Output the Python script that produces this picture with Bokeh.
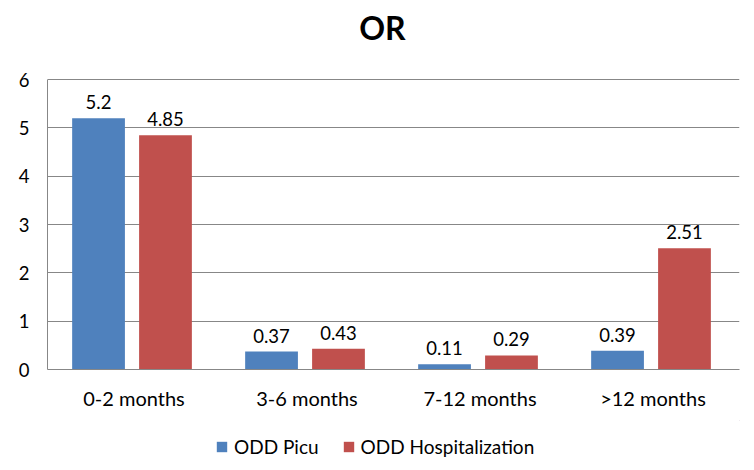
from bokeh.plotting import figure
from bokeh.layouts import column
from bokeh.models import ColumnDataSource, Legend, LegendItem, FixedTicker, Range1d, Label
from bokeh.transform import dodge
from bokeh.core.properties import value
from bokeh.embed import file_html
from bokeh.resources import INLINE

categories = ["0-2 months", "3-6 months", "7-12 months", ">12 months"]
odd_picu = [5.2, 0.37, 0.11, 0.39]
odd_hosp = [4.85, 0.43, 0.29, 2.51]
series_names = ["ODD Picu", "ODD Hospitalization"]
y_ticks = [0, 1, 2, 3, 4, 5, 6]
title_text = "OR"

FONT = "Lato"
BLUE = "#4F81BD"
RED = "#C0504D"
GRID = "#878787"

Y_MAX = 6          # top of the value axis
Y_TOP = 7.43       # extra headroom above the axis holds the title
TITLE_Y = 7.08
TITLE_X = 1.936    # synthetic categorical coordinate

src = ColumnDataSource(dict(
    cat=categories,
    picu=odd_picu,
    hosp=odd_hosp,
    picu_lbl=[f"{v:g}" for v in odd_picu],
    hosp_lbl=[f"{v:g}" for v in odd_hosp],
))

p = figure(x_range=categories, y_range=Range1d(0, Y_TOP), width=746, height=420,
           output_backend="svg", toolbar_location=None,
           min_border_left=47, min_border_right=7, min_border_top=10, min_border_bottom=51)
p.outline_line_color = None
p.background_fill_color = "white"
p.border_fill_color = "white"

r1 = p.vbar(x=dodge("cat", -0.205, range=p.x_range), top="picu", width=0.305,
            source=src, fill_color=BLUE, line_color=None)
r2 = p.vbar(x=dodge("cat", 0.182, range=p.x_range), top="hosp", width=0.305,
            source=src, fill_color=RED, line_color=None)

for col, lbl, off in (("picu", "picu_lbl", -0.205), ("hosp", "hosp_lbl", 0.182)):
    p.text(x=dodge("cat", off, range=p.x_range), y=col, text=lbl, source=src,
           text_align="center", text_baseline="alphabetic", y_offset=-16,
           text_font=value(FONT), text_font_size="18.5px", text_color="#000000")

p.add_layout(Label(x=TITLE_X, y=TITLE_Y, text=title_text, text_align="center",
                   text_baseline="middle", text_font=FONT, text_font_size="32px",
                   text_font_style="bold", text_color="#000000"))

p.xgrid.grid_line_color = None
p.ygrid.grid_line_color = GRID
p.ygrid.grid_line_width = 1
p.yaxis.ticker = FixedTicker(ticks=y_ticks)
p.yaxis.bounds = (0, Y_MAX)

for ax in (p.xaxis[0], p.yaxis[0]):
    ax.axis_line_color = GRID
    ax.major_tick_line_color = None
    ax.minor_tick_line_color = None
    ax.major_label_text_font = FONT
    ax.major_label_text_color = "#000000"
p.yaxis.major_label_standoff = 12
p.yaxis.major_label_text_font_size = "18.5px"
p.xaxis.major_label_text_font_size = "20px"
p.xaxis.major_label_standoff = 10

# legend strip below the chart
p2 = figure(width=746, height=42, x_range=Range1d(0, 1), y_range=Range1d(0, 1),
            output_backend="svg", toolbar_location=None,
            x_axis_type=None, y_axis_type=None,
            min_border_left=0, min_border_right=0, min_border_top=0, min_border_bottom=0)
p2.outline_line_color = None
p2.xgrid.grid_line_color = None
p2.ygrid.grid_line_color = None
e1 = p2.vbar(x=[5], top=[5], bottom=[4], width=0.1, fill_color=BLUE, line_color=None)
e2 = p2.vbar(x=[5], top=[5], bottom=[4], width=0.1, fill_color=RED, line_color=None)
legend = Legend(items=[LegendItem(label=series_names[0], renderers=[e1]),
                       LegendItem(label=series_names[1], renderers=[e2])],
                orientation="horizontal", location=(168, 4),
                padding=0, margin=0, spacing=23, glyph_width=13, glyph_height=13,
                label_standoff=6, label_text_font=FONT, label_text_font_size="19px",
                label_text_color="#000000", border_line_color=None,
                background_fill_alpha=0)
p2.add_layout(legend, "center")

layout = column(p, p2, spacing=0)
open("out.html", "w").write(file_html(layout, INLINE))
